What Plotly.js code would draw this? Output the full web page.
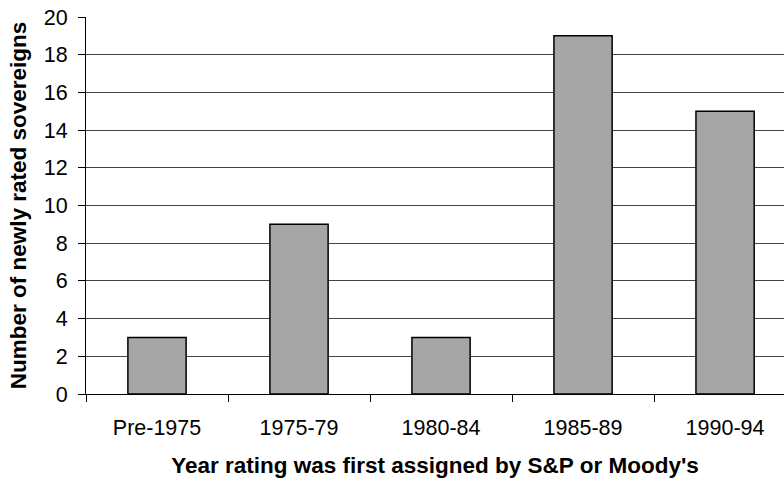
<!DOCTYPE html>
<html><head><meta charset="utf-8">
<script src="https://cdn.plot.ly/plotly-3.0.1.min.js"></script>
<style>html,body{margin:0;padding:0;background:#fff;overflow:hidden}</style>
</head><body>
<div id="chart" style="width:784px;height:478px"></div>
<script>
const categories = ["Pre-1975", "1975-79", "1980-84", "1985-89", "1990-94"];
const counts = [3, 9, 3, 19, 15];
const yTicks = [0, 2, 4, 6, 8, 10, 12, 14, 16, 18, 20];

const FONT = "'Liberation Sans', Arial, Helvetica, sans-serif";

const trace = {
  type: "bar",
  x: categories,
  y: counts,
  width: 0.41,
  marker: {color: "#a6a6a6", line: {color: "#000", width: 1.5}},
  hoverinfo: "x+y"
};

const layout = {
  width: 784, height: 478,
  margin: {l: 86, r: 0, t: 17, b: 84},
  paper_bgcolor: "#fff", plot_bgcolor: "#fff",
  font: {family: FONT, size: 21.5, color: "#000"},
  showlegend: false,
  bargap: 0,
  xaxis: {
    type: "category",
    range: [-0.5, 4.415],
    showgrid: false,
    showline: true, linecolor: "#000", linewidth: 1,
    ticks: "outside", tickson: "boundaries", ticklen: 7, tickcolor: "#000",
    tickfont: {family: FONT, size: 21.5},
    ticklabelstandoff: 14,
    title: {text: "<b>Year rating was first assigned by S&P or Moody's</b>", font: {family: FONT, size: 22.5}, standoff: 21},
    fixedrange: true
  },
  yaxis: {
    range: [0, 20],
    tickvals: yTicks,
    showgrid: true, gridcolor: "#444", gridwidth: 1,
    showline: true, linecolor: "#000", linewidth: 1,
    ticks: "outside", ticklen: 7, tickcolor: "#000",
    tickfont: {family: FONT, size: 21.5},
    ticklabelstandoff: 6,
    zeroline: false,
    title: {text: "<b>Number of newly rated sovereigns</b>", font: {family: FONT, size: 22.5}, standoff: 10},
    fixedrange: true
  }
};

Plotly.newPlot("chart", [trace], layout, {displayModeBar: false, staticPlot: true});
</script>
</body></html>
